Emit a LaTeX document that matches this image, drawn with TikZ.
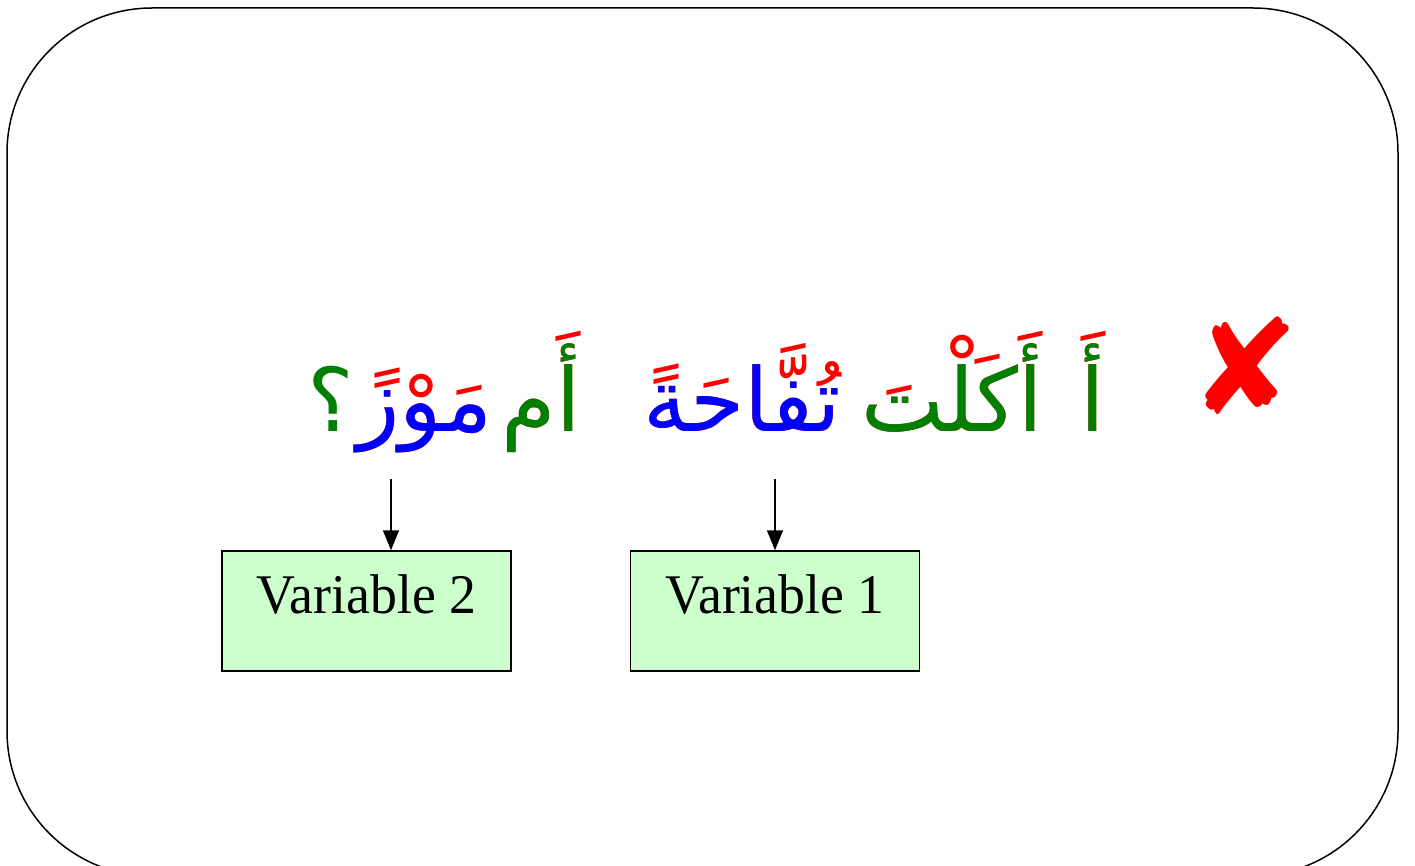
\documentclass[tikz,border=0pt]{standalone}
\usepackage{fontspec}
\usetikzlibrary{arrows.meta}
\TeXXeTstate=1
\newfontfamily\arabicfont[Script=Arabic]{DejaVu Sans}
\newfontfamily\symfont{DejaVu Sans}
\newfontfamily\varfont[FakeStretch=0.96]{Liberation Serif}
\definecolor{boxgreen}{HTML}{CCFFCC}
\definecolor{wgreen}{HTML}{008000}
\definecolor{wblue}{HTML}{0000FF}

\begin{document}
\begin{tikzpicture}[x=0.5pt,y=-0.5pt,>={Triangle[width=8pt,length=10pt]},
  frame/.style={draw,line width=0.75pt,rounded corners=72.5pt},
  varbox/.style={draw,fill=boxgreen,line width=0.75pt,inner xsep=0pt,
                 inner ysep=0pt,minimum width=144.5pt,text height=31pt,
                 text depth=29pt,font=\varfont\fontsize{28}{30}\selectfont},
  harakat/.style={text=red,anchor=base,inner sep=0pt,
                  font=\arabicfont\fontsize{44}{48}\selectfont},
  word/.style={harakat,text=#1}]
\useasboundingbox (0,0) rectangle (1415,866);
\draw[frame] (7,8) rectangle (1398,876);

% red vowel marks first, bare letters on top
\node[harakat] (qa-h)      at (1093,432) {\beginR أَ\endR};
\node[harakat] (akalta-h)  at (952,432)  {\beginR أَكَلْتَ\endR};
\node[harakat] (tuffaha-h) at (742,432)  {\beginR تُفَّاحَةً\endR};
\node[harakat] (am-h)      at (541,432)  {\beginR أَم\endR};
\node[harakat] (mawz-h)    at (425,432)  {\beginR مَوْزً\endR};
\node[word=wgreen] (qa)      at (1093,432) {\beginR أ\endR};
\node[word=wgreen] (akalta)  at (952,432)  {\beginR أكلت\endR};
\node[word=wgreen] (am)      at (541,432)  {\beginR أم\endR};
\node[word=wblue]  (tuffaha) at (742,432)  {\beginR تفاحة\endR};
\node[word=wblue]  (mawz)    at (425,432)  {\beginR موز\endR};
\node[word=wgreen] (qmark)   at (331,432)  {\beginR ؟\endR};

\node[text=red,font=\symfont\fontsize{66}{70}\selectfont,inner sep=0pt]
  (wrong) at (1245,366) {✘};

\node[varbox] (var2) at (366.5,611) {Variable 2};
\node[varbox] (var1) at (775,611) {Variable 1};
\coordinate (v2in) at (391,479);
\coordinate (v1in) at (775,479);
\draw[->,line width=0.75pt] (v2in) -- (v2in |- var2.north);
\draw[->,line width=0.75pt] (v1in) -- (v1in |- var1.north);
\end{tikzpicture}
\end{document}
